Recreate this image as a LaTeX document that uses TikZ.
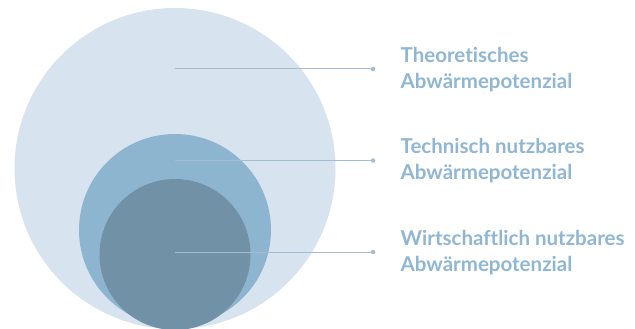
\documentclass[tikz,border=0pt]{standalone}
\usepackage{fontspec}
\setmainfont{Lato}[Ligatures={NoCommon}]
\definecolor{cBig}{HTML}{D7E4EF}
\definecolor{cMid}{HTML}{8EB5D0}
\definecolor{cSmall}{HTML}{7191A6}
\definecolor{cLine}{HTML}{A3BCCF}
\definecolor{cText}{HTML}{8FB6D2}
\tikzset{
  disc/.style={circle, inner sep=0pt, draw=none},
  leader/.style={draw=cLine, line width=1pt},
  enddot/.style={circle, fill=cLine, inner sep=0pt, minimum size=4.5pt},
  label/.style={anchor=west, align=left, text=cText, inner sep=0pt,
    font=\fontsize{20.5}{26}\selectfont\bfseries}
}
\begin{document}
\begin{tikzpicture}[x=1pt,y=-1pt]
\useasboundingbox (0,0) rectangle (635,329);
\node[disc, fill=cBig, minimum size=321pt] (big) at (175,168.5) {};
\node[disc, fill=cMid, minimum size=192pt] (mid) at (175,230) {};
\node[disc, fill=cSmall, minimum size=151pt] (small) at (175,254.5) {};
\coordinate (s1) at (175,69);
\coordinate (s2) at (175,160.5);
\coordinate (s3) at (175,252);
\node[enddot] (d1) at (373,69) {};
\node[enddot] (d2) at (373,160.5) {};
\node[enddot] (d3) at (373,252) {};
\draw[leader] (s1) -- (d1);
\draw[leader] (s2) -- (d2);
\draw[leader] (s3) -- (d3);
\node[label] (t1) at (400.5,69.5) {Theoretisches\\Abwärmepotenzial};
\node[label] (t2) at (400.5,161) {Technisch nutzbares\\Abwärmepotenzial};
\node[label] (t3) at (400.5,252.5) {Wirtschaftlich nutzbares\\Abwärmepotenzial};
\end{tikzpicture}
\end{document}
